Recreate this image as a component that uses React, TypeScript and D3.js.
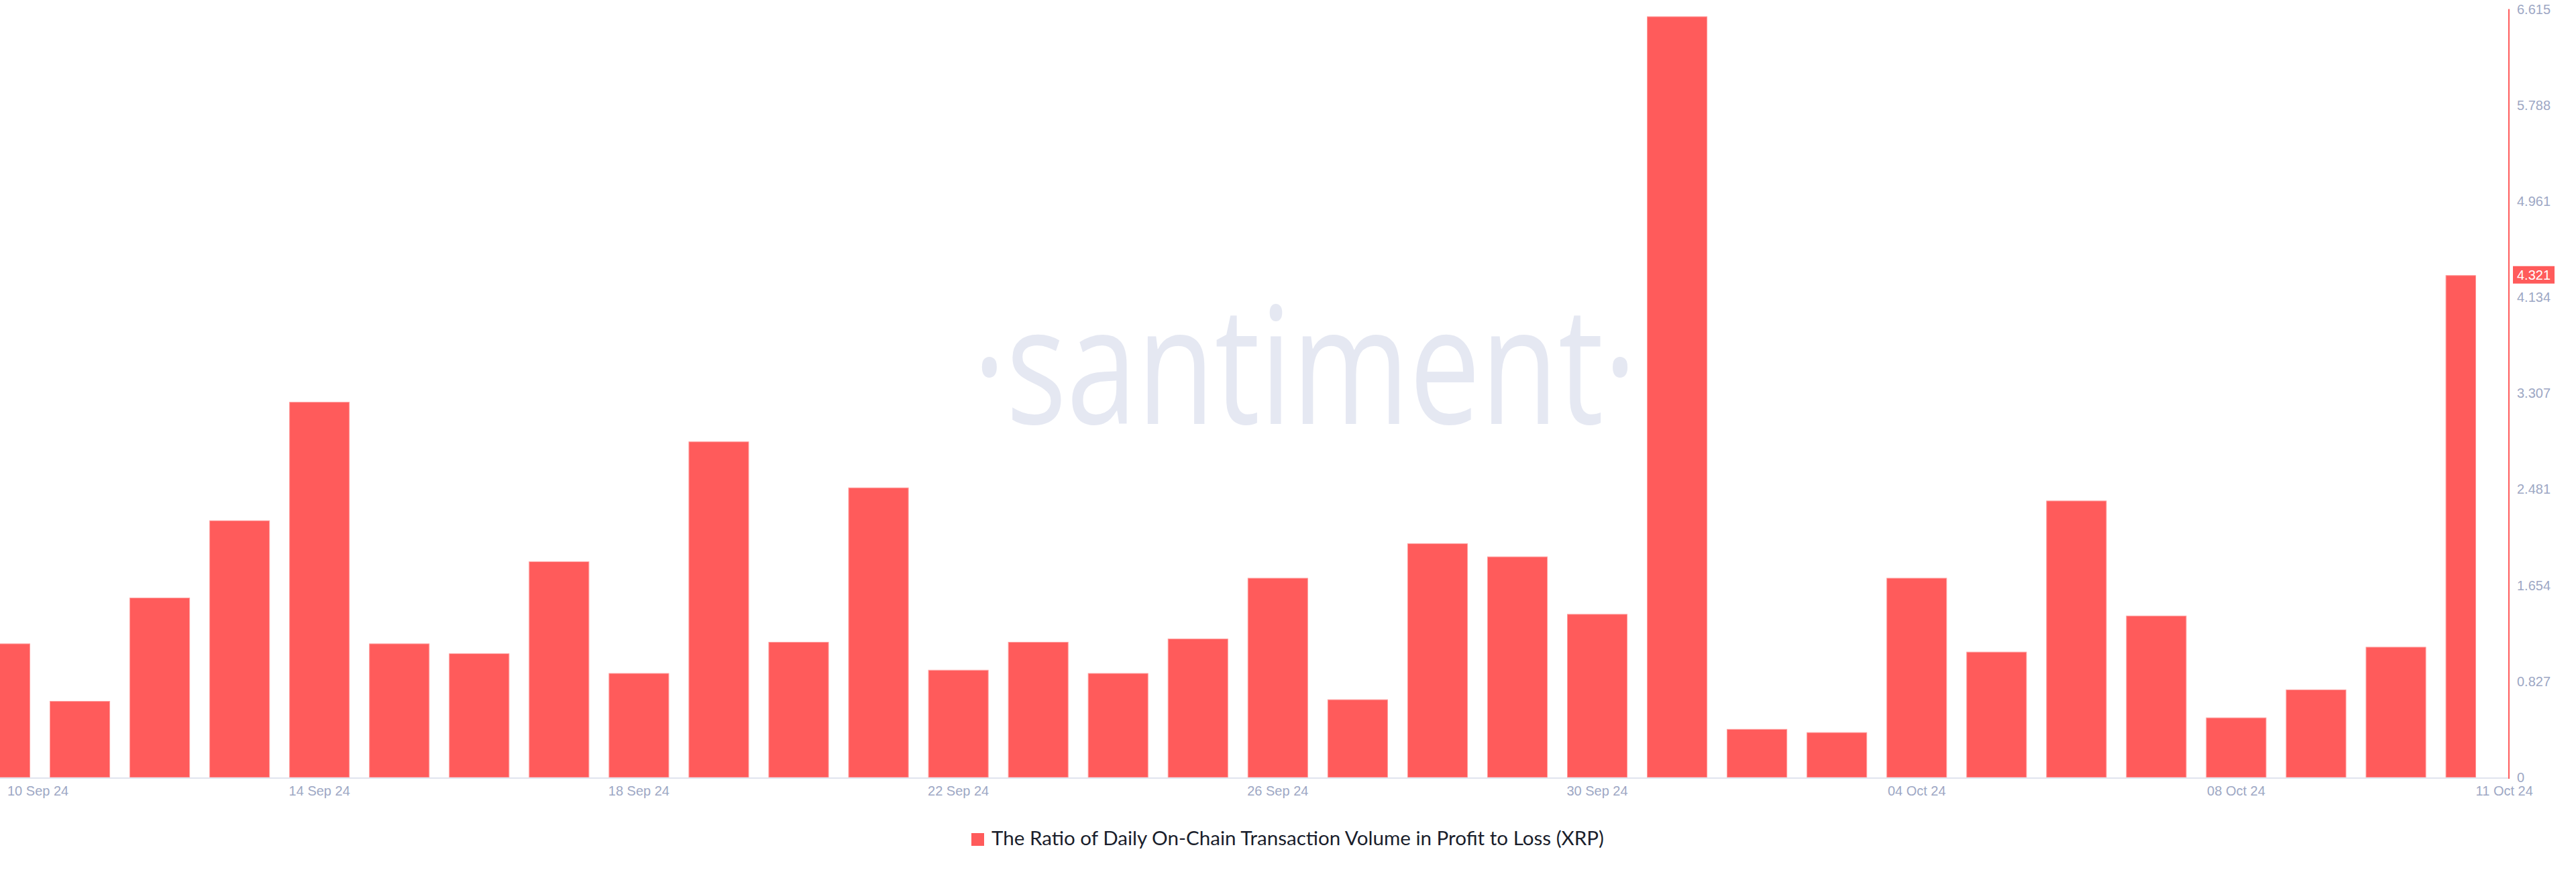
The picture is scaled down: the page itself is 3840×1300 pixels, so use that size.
import React, { useEffect, useRef } from 'react';
import * as d3 from 'd3';

// Daily values, 10 Sep 24 .. 11 Oct 24
const dates = [
  '2024-09-10', '2024-09-11', '2024-09-12', '2024-09-13', '2024-09-14', '2024-09-15',
  '2024-09-16', '2024-09-17', '2024-09-18', '2024-09-19', '2024-09-20', '2024-09-21',
  '2024-09-22', '2024-09-23', '2024-09-24', '2024-09-25', '2024-09-26', '2024-09-27',
  '2024-09-28', '2024-09-29', '2024-09-30', '2024-10-01', '2024-10-02', '2024-10-03',
  '2024-10-04', '2024-10-05', '2024-10-06', '2024-10-07', '2024-10-08', '2024-10-09',
  '2024-10-10', '2024-10-11',
];

const ratios = [
  1.15, 0.655, 1.545, 2.21, 3.23, 1.15,
  1.065, 1.857, 0.895, 2.889, 1.164, 2.493,
  0.923, 1.164, 0.895, 1.192, 1.715, 0.669,
  2.012, 1.899, 1.404, 6.549, 0.414, 0.386,
  1.715, 1.079, 2.38, 1.39, 0.513, 0.754,
  1.121, 4.321,
];

const xTickDates = [
  '2024-09-10', '2024-09-14', '2024-09-18', '2024-09-22', '2024-09-26',
  '2024-09-30', '2024-10-04', '2024-10-08', '2024-10-11',
];
const xTickLabels = [
  '10 Sep 24', '14 Sep 24', '18 Sep 24', '22 Sep 24', '26 Sep 24',
  '30 Sep 24', '04 Oct 24', '08 Oct 24', '11 Oct 24',
];

const yMax = 6.615;
const yTickLabels = ['0', '0.827', '1.654', '2.481', '3.307', '4.134', '4.961', '5.788', '6.615'];

const legendLabel = 'The Ratio of Daily On-Chain Transaction Volume in Profit to Loss (XRP)';
const lastLabel = '4.321';

const W = 3840;
const H = 1300;
const RED = '#ff5b5b';
const AXIS_TEXT = '#9da7c4';

const App: React.FC = () => {
  const svgRef = useRef<SVGSVGElement>(null);

  useEffect(() => {
    if (!svgRef.current) return;
    const svg = d3.select(svgRef.current);
    svg.selectAll('*').remove();

    const plotRight = 3740;
    const lastX = 3690.6;

    const x = d3.scalePoint<string>().domain(dates).range([0, lastX]);
    const step = x.step();
    const barW = step * 0.748;

    const y = d3.scaleLinear().domain([0, yMax]).range([1159, 13.5]);

    // watermark
    svg.append('text')
      .attr('x', 1450)
      .attr('y', 632)
      .attr('textLength', 990)
      .attr('lengthAdjust', 'spacingAndGlyphs')
      .attr('font-family', '"Open Sans", sans-serif')
      .attr('font-weight', 400)
      .attr('font-size', 243)
      .attr('fill', '#e5e8f2')
      .text('·santiment·');

    // clip bars to the first/last day centers
    svg.append('defs')
      .append('clipPath')
      .attr('id', 'bar-clip')
      .append('rect')
      .attr('x', 0)
      .attr('y', 0)
      .attr('width', lastX)
      .attr('height', y(0));

    // bottom axis line
    svg.append('line')
      .attr('x1', 0)
      .attr('x2', plotRight)
      .attr('y1', y(0) + 1)
      .attr('y2', y(0) + 1)
      .attr('stroke', '#e0e4ee')
      .attr('stroke-width', 2);

    // bars
    svg.append('g')
      .attr('clip-path', 'url(#bar-clip)')
      .selectAll('rect')
      .data(ratios)
      .enter()
      .append('rect')
      .attr('x', (_, i) => (x(dates[i]) as number) - barW / 2)
      .attr('y', d => y(d))
      .attr('width', barW)
      .attr('height', d => y(0) - y(d))
      .attr('fill', RED)
      .attr('stroke', '#ff9c9c')
      .attr('stroke-width', 1);

    // right axis line
    svg.append('line')
      .attr('x1', plotRight)
      .attr('x2', plotRight)
      .attr('y1', y(yMax))
      .attr('y2', y(0) + 2)
      .attr('stroke', RED)
      .attr('stroke-width', 2);

    // y ticks
    svg.append('g')
      .selectAll('text')
      .data(yTickLabels)
      .enter()
      .append('text')
      .attr('x', 3752)
      .attr('y', (_, i) => y((i * yMax) / 8))
      .attr('dy', '0.35em')
      .attr('font-family', '"Liberation Sans", Arial, sans-serif')
      .attr('font-size', 20)
      .attr('fill', AXIS_TEXT)
      .text(d => d);

    // last value badge
    const lastVal = ratios[ratios.length - 1];
    svg.append('rect')
      .attr('x', 3746)
      .attr('y', y(lastVal) - 14)
      .attr('width', 62)
      .attr('height', 26)
      .attr('fill', RED);
    svg.append('text')
      .attr('x', 3777)
      .attr('y', y(lastVal) - 1)
      .attr('dy', '0.35em')
      .attr('text-anchor', 'middle')
      .attr('font-family', '"Liberation Sans", Arial, sans-serif')
      .attr('font-size', 20)
      .attr('fill', '#ffffff')
      .text(lastLabel);

    // x ticks
    svg.append('g')
      .selectAll('text')
      .data(xTickDates)
      .enter()
      .append('text')
      .attr('x', (d, i) => (i === 0 ? 11 : (x(d) as number)))
      .attr('y', 1186)
      .attr('text-anchor', (_, i) => (i === 0 || i === xTickDates.length - 1 ? 'start' : 'middle'))
      .attr('font-family', '"Liberation Sans", Arial, sans-serif')
      .attr('font-size', 20)
      .attr('fill', AXIS_TEXT)
      .text((_, i) => xTickLabels[i]);

    // legend
    svg.append('rect')
      .attr('x', 1448)
      .attr('y', 1242)
      .attr('width', 19)
      .attr('height', 19)
      .attr('fill', RED);
    svg.append('text')
      .attr('x', 1478)
      .attr('y', 1260)
      .attr('textLength', 913)
      .attr('lengthAdjust', 'spacingAndGlyphs')
      .attr('font-family', 'Lato, sans-serif')
      .attr('font-size', 29)
      .attr('fill', '#1a1e2c')
      .text(legendLabel);
  }, []);

  return (
    <svg
      ref={svgRef}
      width={W}
      height={H}
      style={{ position: 'absolute', left: 0, top: 0, background: '#ffffff' }}
    />
  );
};

export default App;
